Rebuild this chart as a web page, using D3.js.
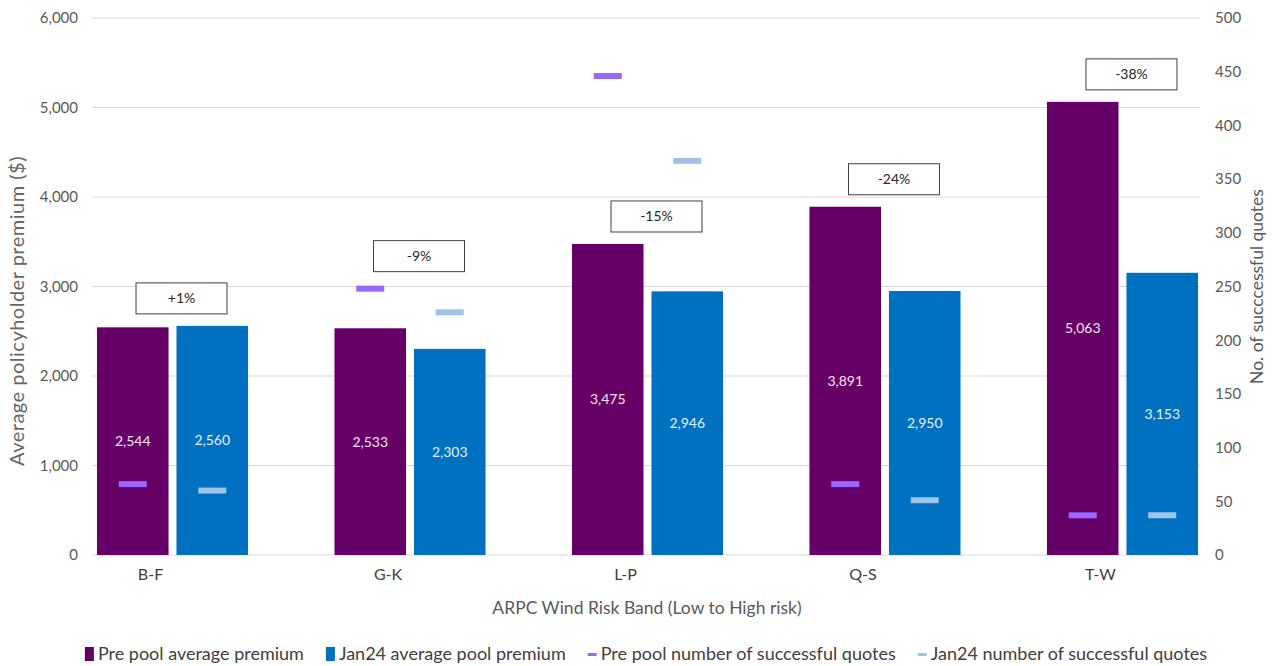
<!DOCTYPE html>
<html>
<head>
<meta charset="utf-8">
<script src="https://cdn.jsdelivr.net/npm/d3@7"></script>
<style>
  body { margin: 0; background: #ffffff; }
  text { font-family: Lato, "Open Sans", sans-serif; }
</style>
</head>
<body>
<div id="chart"></div>
<script>

// Chart data 
const bands = ["B-F", "G-K", "L-P", "Q-S", "T-W"];
const prePremium = [2544, 2533, 3475, 3891, 5063];
const janPremium = [2560, 2303, 2946, 2950, 3153];
const preQuotes = [66, 248, 446, 66, 37];
const janQuotes = [60, 226, 367, 51, 37];
const changeLabels = ["+1%", "-9%", "-15%", "-24%", "-38%"];
const leftTicks = [0, 1000, 2000, 3000, 4000, 5000, 6000];
const rightTicks = [0, 50, 100, 150, 200, 250, 300, 350, 400, 450, 500];
const seriesNames = ["Pre pool average premium", "Jan24 average pool premium",
                     "Pre pool number of successful quotes", "Jan24 number of successful quotes"];

// Dimensions 
const width = 1274;
const height = 666;
const plot = {left: 92, right: 1200, top: 18, bottom: 555};

const colors = {pre: "#660066", jan: "#0070c0", preDash: "#9966ff", janDash: "#9dc3e6"};

const svg = d3.select("#chart")
  .append("svg")
  .attr("width", width)
  .attr("height", height);

/*
  Scales
*/
let x0 = d3.scaleBand()
  .domain(bands)
  .range([97, 1198])
  .paddingInner(0.364)
  .paddingOuter(0);

let x1 = d3.scaleBand()
  .domain(["pre", "jan"])
  .range([0, x0.bandwidth()])
  .paddingInner(0.1);

let yLeft = d3.scaleLinear().domain([0, 6000]).range([plot.bottom, plot.top]);
let yRight = d3.scaleLinear().domain([0, 500]).range([plot.bottom, plot.top]);

// gridlines 
svg.append("g")
  .selectAll("line")
  .data(leftTicks)
  .enter()
  .append("line")
    .attr("x1", plot.left)
    .attr("x2", plot.right)
    .attr("y1", d => yLeft(d))
    .attr("y2", d => yLeft(d))
    .attr("stroke", "#d9d9d9")
    .attr("stroke-width", 1);

// left axis 
const leftAxis = svg.append("g")
  .attr("transform", `translate(${plot.left - 8},0)`)
  .call(d3.axisLeft(yLeft).tickValues(leftTicks).tickFormat(d3.format(",")).tickSize(0).tickPadding(6));
leftAxis.select(".domain").remove();
leftAxis.selectAll("text").attr("font-size", "15px").attr("fill", "#595959")
  .style("font-family", "Lato, sans-serif");

// right axis 
const rightAxis = svg.append("g")
  .attr("transform", `translate(${plot.right + 9},0)`)
  .call(d3.axisRight(yRight).tickValues(rightTicks).tickSize(0).tickPadding(6));
rightAxis.select(".domain").remove();
rightAxis.selectAll("text").attr("font-size", "15px").attr("fill", "#595959")
  .style("font-family", "Lato, sans-serif");

// x axis labels 
const xAxis = svg.append("g")
  .attr("transform", `translate(-22,${plot.bottom + 8})`)
  .call(d3.axisBottom(x0).tickSize(0).tickPadding(6));
xAxis.select(".domain").remove();
xAxis.selectAll("text").attr("font-size", "16px").attr("fill", "#404040")
  .style("font-family", "Lato, sans-serif");

// axis titles 
svg.append("text")
  .attr("x", 647)
  .attr("y", 614)
  .attr("text-anchor", "middle")
  .attr("font-size", "17.5px")
  .attr("fill", "#595959")
  .text("ARPC Wind Risk Band (Low to High risk)");

svg.append("text")
  .attr("transform", "translate(24,311) rotate(-90)")
  .attr("text-anchor", "middle")
  .attr("font-size", "20px")
  .attr("letter-spacing", "0.5px")
  .attr("fill", "#666666")
  .text("Average policyholder premium ($)");

svg.append("text")
  .attr("transform", `translate(1263,${(plot.top + plot.bottom) / 2}) rotate(-90)`)
  .attr("text-anchor", "middle")
  .attr("font-size", "17.5px")
  .attr("fill", "#595959")
  .text("No. of succcessful quotes");

/*
  Bars 
*/
const rows = bands.map((b, i) => ({
  band: b, pre: prePremium[i], jan: janPremium[i],
  preQ: preQuotes[i], janQ: janQuotes[i], change: changeLabels[i]
}));

const groups = svg.selectAll(".group")
  .data(rows)
  .enter()
  .append("g")
    .attr("class", "group")
    .attr("transform", d => `translate(${x0(d.band)},0)`);

groups.selectAll("rect.bar")
  .data(d => [{key: "pre", v: d.pre}, {key: "jan", v: d.jan}])
  .enter()
  .append("rect")
    .attr("class", "bar")
    .attr("x", d => x1(d.key))
    .attr("y", d => yLeft(d.v))
    .attr("width", x1.bandwidth())
    .attr("height", d => plot.bottom - yLeft(d.v))
    .attr("fill", d => colors[d.key]);

// value labels in middle of bars 
groups.selectAll("text.val")
  .data(d => [{key: "pre", v: d.pre}, {key: "jan", v: d.jan}])
  .enter()
  .append("text")
    .attr("class", "val")
    .attr("x", d => x1(d.key) + x1.bandwidth() / 2)
    .attr("y", d => (yLeft(d.v) + plot.bottom) / 2 + 5)
    .attr("text-anchor", "middle")
    .attr("font-size", "14px")
    .attr("fill", d => d.key == "pre" ? "#f3e4f3" : "#e6f0fa")
    .text(d => d3.format(",")(d.v));

// quote dashes (secondary axis) 
const dashW = 28, dashH = 6;
groups.selectAll("rect.dash")
  .data(d => [{key: "pre", v: d.preQ}, {key: "jan", v: d.janQ}])
  .enter()
  .append("rect")
    .attr("class", "dash")
    .attr("x", d => x1(d.key) + x1.bandwidth() / 2 - dashW / 2)
    .attr("y", d => yRight(d.v) - dashH / 2)
    .attr("width", dashW)
    .attr("height", dashH)
    .attr("fill", d => d.key == "pre" ? colors.preDash : colors.janDash);

/*
  Change boxes - sit above the taller bar, moved up if a dash gets in the way
*/
const boxW = 91, boxH = 31;
groups.each(function(d) {
  let bottom = yLeft(Math.max(d.pre, d.jan)) - 12;
  [d.preQ, d.janQ].forEach(q => {
    let dashTop = yRight(q) - dashH / 2;
    let dashBot = yRight(q) + dashH / 2;
    if (dashBot > bottom - boxH && dashTop < bottom) bottom = dashTop - 14;
  });
  const cx = x0.bandwidth() / 2 + 9;
  const g = d3.select(this);
  g.append("rect")
    .attr("x", cx - boxW / 2)
    .attr("y", bottom - boxH)
    .attr("width", boxW)
    .attr("height", boxH)
    .attr("fill", "#ffffff")
    .attr("stroke", "#404040")
    .attr("stroke-width", 1);
  g.append("text")
    .attr("x", cx)
    .attr("y", bottom - boxH / 2 + 5)
    .attr("text-anchor", "middle")
    .attr("font-size", "14px")
    .attr("fill", "#262626")
    .text(d.change);
});

/*
  Legend 
*/
const legend = svg.append("g");
const legendItems = [
  {name: seriesNames[0], color: colors.pre, kind: "box"},
  {name: seriesNames[1], color: colors.jan, kind: "box"},
  {name: seriesNames[2], color: colors.preDash, kind: "dash"},
  {name: seriesNames[3], color: colors.janDash, kind: "dash"}
];
let lx = 0;
legendItems.forEach(item => {
  const g = legend.append("g").attr("transform", `translate(${lx},0)`);
  if (item.kind == "box") {
    g.append("rect").attr("x", 0).attr("y", -13).attr("width", 9).attr("height", 14).attr("fill", item.color);
  } else {
    g.append("rect").attr("x", 0).attr("y", -7).attr("width", 9).attr("height", 3).attr("fill", item.color);
  }
  const t = g.append("text")
    .attr("x", 13)
    .attr("y", 0)
    .attr("font-size", "18px")
    .attr("fill", "#404040")
    .text(item.name);
  lx += 13 + t.node().getComputedTextLength() + 22;
});
lx -= 22;
legend.attr("transform", `translate(${646 - lx / 2},660)`);

</script>
</body>
</html>
